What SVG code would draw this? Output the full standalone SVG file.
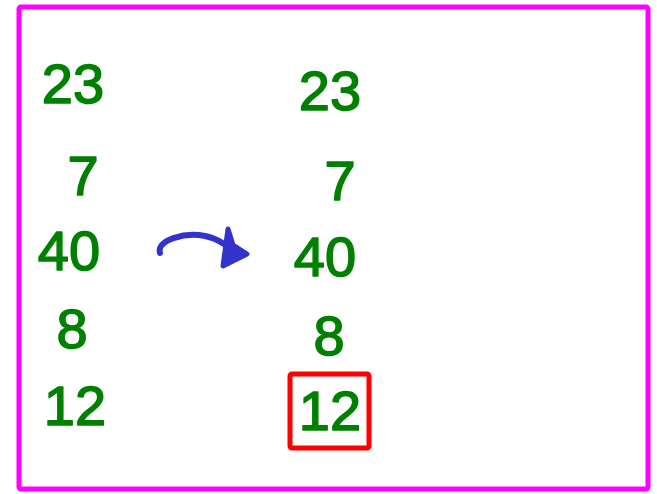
<svg xmlns="http://www.w3.org/2000/svg" width="657" height="494" viewBox="0 0 657 494">
<style>
.n{font-family:"Liberation Sans",Arial,sans-serif;font-size:56px;fill:#008000;stroke:#008000;stroke-width:1.5;stroke-linejoin:round;text-anchor:middle}
</style>
<rect width="657" height="494" fill="#fff"/>
<rect x="19" y="7" width="629" height="482" fill="none" stroke="#ff00ff" stroke-width="5" rx="2"/>
<g id="left">
<text class="n" x="73" y="103">23</text>
<text class="n" x="83" y="195">7</text>
<text class="n" x="69" y="270">40</text>
<text class="n" x="72" y="348">8</text>
<text class="n" x="75" y="425">12</text>
</g>
<g id="right">
<text class="n" x="330" y="110">23</text>
<text class="n" x="340" y="200">7</text>
<text class="n" x="325" y="276">40</text>
<text class="n" x="329" y="355">8</text>
<g id="box12">
<rect x="290" y="374" width="79" height="74" fill="none" stroke="#ff0000" stroke-width="5" rx="2"/>
<text class="n" x="330" y="430">12</text>
</g>
</g>
<g id="connectors">
<path d="M160,253 C156,240 185,232 205,236 C220,239 230,248 238,256" fill="none" stroke="#3333cc" stroke-width="6" stroke-linecap="round"/>
<path d="M228,229 L233,245 L247,254 L223,266 Z" fill="#3333cc" stroke="#3333cc" stroke-width="5" stroke-linejoin="round"/>
</g>
</svg>
